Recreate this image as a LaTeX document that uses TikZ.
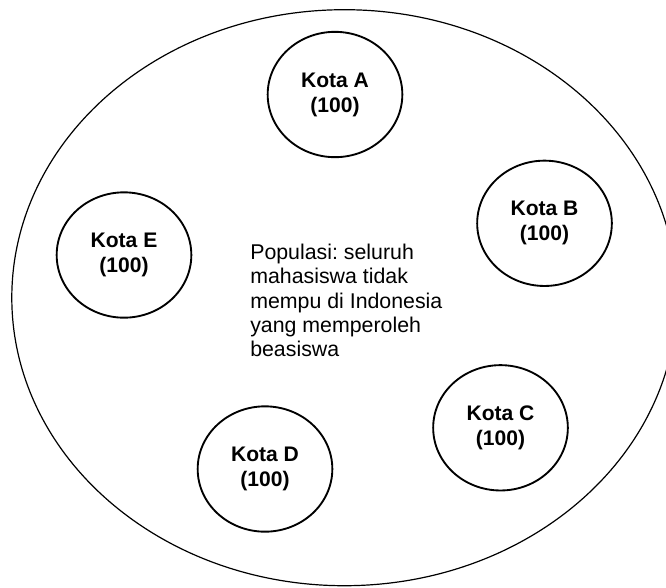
\documentclass[tikz,border=0pt]{standalone}
\usepackage{fontspec}
\setsansfont{Liberation Sans}
\usepackage{tikz}
\usetikzlibrary{shapes.geometric}
\frenchspacing

\begin{document}
\begin{tikzpicture}[x=0.75pt,y=-0.75pt,font=\sffamily,
 kota/.style={draw=black,line width=1.4pt,ellipse,inner sep=0pt,
  minimum width=101pt,minimum height=94pt,align=center,
  font=\sffamily\bfseries\fontsize{15.8}{18.75}\selectfont},
 pop/.style={draw=black,line width=0.9pt}]
\useasboundingbox (0,0) rectangle (666,587);
\draw[pop] (344.4,297.7) ellipse [x radius=332.6,y radius=288];
\node[kota] (ka) at (335,94.5) {Kota A\\(100)};
\node[kota] (kb) at (544.5,223.3) {Kota B\\(100)};
\node[kota] (kc) at (500.5,427.8) {Kota C\\(100)};
\node[kota] (kd) at (265,469) {Kota D\\(100)};
\node[kota] (ke) at (124,255) {Kota E\\(100)};
\node[anchor=west,align=left,inner sep=0pt,font=\sffamily\fontsize{16}{18.2}\selectfont]
 (popl) at (250,300.5) {Populasi: seluruh\\ mahasiswa tidak\\ mempu di Indonesia\\ yang memperoleh\\ beasiswa};
\end{tikzpicture}
\end{document}
